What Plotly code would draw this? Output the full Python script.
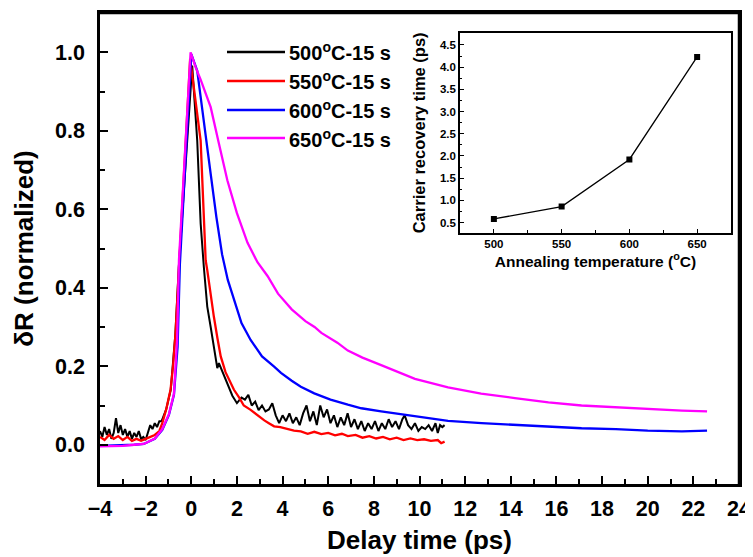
import plotly.graph_objects as go

# ---------------- data ----------------
series_names = ["500", "550", "600", "650"]
series_colors = ["#000000", "#ff0000", "#0000ff", "#ff00ff"]

t500 = [-4.0, -3.9, -3.8, -3.7, -3.6, -3.5, -3.4, -3.3, -3.2, -3.1, -3.0, -2.9, -2.8, -2.7,
        -2.6, -2.5, -2.4, -2.3, -2.2, -2.1, -2.0, -1.9, -1.8, -1.7, -1.6, -1.5, -1.4, -1.3,
        -1.1, -0.9, -0.7, -0.55, 0.04, 0.26, 0.41, 0.55, 0.70, 0.85, 0.99, 1.14, 1.21, 1.4,
        1.58, 1.8, 2.0, 2.2, 2.35, 2.5, 2.65, 2.8, 2.95, 3.1, 3.25, 3.4, 3.55, 3.7, 3.85,
        4.0, 4.15, 4.3, 4.45, 4.6, 4.75, 4.9, 5.05, 5.2, 5.35, 5.5, 5.65, 5.8, 5.95, 6.1,
        6.25, 6.4, 6.55, 6.7, 6.85, 7.0, 7.15, 7.3, 7.45, 7.6, 7.75, 7.9, 8.05, 8.2, 8.35,
        8.5, 8.65, 8.8, 8.95, 9.1, 9.25, 9.35, 9.5, 9.65, 9.8, 9.95, 10.1, 10.25, 10.4,
        10.55, 10.7, 10.8, 10.9, 11.0, 11.1]
r500 = [0.035, 0.02, 0.045, 0.025, 0.04, 0.015, 0.03, 0.068, 0.03, 0.05, 0.025, 0.04, 0.02, 0.035,
        0.015, 0.03, 0.02, 0.035, 0.015, 0.02, 0.012, 0.03, 0.05, 0.04, 0.055, 0.045, 0.06, 0.06,
        0.09, 0.14, 0.28, 0.45, 0.966, 0.775, 0.564, 0.453, 0.352, 0.30, 0.25, 0.195, 0.208, 0.18,
        0.157, 0.125, 0.106, 0.12, 0.115, 0.127, 0.10, 0.11, 0.088, 0.10, 0.085, 0.09, 0.106, 0.075, 0.055,
        0.075, 0.06, 0.08, 0.055, 0.07, 0.05, 0.08, 0.10, 0.06, 0.085, 0.05, 0.10, 0.07, 0.09, 0.055,
        0.075, 0.045, 0.07, 0.05, 0.08, 0.045, 0.065, 0.04, 0.06, 0.035, 0.055, 0.04, 0.06, 0.035, 0.055,
        0.04, 0.065, 0.045, 0.06, 0.04, 0.065, 0.075, 0.05, 0.04, 0.055, 0.035, 0.045, 0.04, 0.05,
        0.035, 0.055, 0.03, 0.05, 0.045, 0.05]

t550 = [-4.0, -3.8, -3.6, -3.4, -3.2, -3.0, -2.8, -2.6, -2.4, -2.2, -2.0, -1.8, -1.6, -1.4, -1.27,
        -1.1, -0.91, -0.8, -0.69, -0.54, -0.05, 0.41, 0.63, 0.70, 0.85, 0.99, 1.15, 1.29, 1.5, 1.7,
        1.87, 2.1, 2.3, 2.6, 2.9, 3.2, 3.4, 3.63, 3.9, 4.2, 4.5, 4.8, 5.1, 5.39, 5.7, 6.0, 6.3, 6.6,
        6.86, 7.2, 7.5, 7.8, 8.1, 8.4, 8.7, 9.0, 9.3, 9.6, 9.9, 10.2, 10.5, 10.8, 10.95, 11.1]
r550 = [0.02, 0.012, 0.025, 0.015, 0.022, 0.012, 0.02, 0.01, 0.015, 0.01, 0.015, 0.02, 0.025, 0.035, 0.055,
        0.09, 0.14, 0.20, 0.284, 0.45, 0.983, 0.775, 0.47, 0.445, 0.38, 0.326, 0.27, 0.225, 0.185, 0.16,
        0.14, 0.12, 0.10, 0.089, 0.075, 0.062, 0.055, 0.047, 0.045, 0.04, 0.036, 0.034, 0.028, 0.033, 0.027,
        0.03, 0.024, 0.028, 0.022, 0.025, 0.018, 0.022, 0.016, 0.02, 0.014, 0.018, 0.012, 0.016, 0.012,
        0.014, 0.01, 0.012, 0.004, 0.008]

t600 = [-4.0, -3.0, -2.5, -2.08, -1.6, -1.27, -0.98, -0.76, -0.6, -0.5, 0.0, 0.26, 0.55, 0.85,
        1.1, 1.35, 1.6, 1.87, 2.2, 2.6, 3.1, 3.63, 3.93, 4.4, 4.8, 5.39, 6.1, 6.86, 7.45, 8.32,
        9.79, 11.25, 12.72, 14.18, 15.65, 17.1, 18.6, 20.0, 21.5, 22.6]
r600 = [-0.003, -0.002, 0.0, 0.002, 0.015, 0.038, 0.076, 0.127, 0.25, 0.46, 0.995, 0.953, 0.818, 0.69,
        0.58, 0.485, 0.42, 0.369, 0.31, 0.267, 0.225, 0.199, 0.183, 0.163, 0.148, 0.131, 0.115, 0.102, 0.093, 0.085,
        0.072, 0.061, 0.055, 0.051, 0.047, 0.042, 0.040, 0.036, 0.034, 0.036]

t650 = [-4.0, -3.0, -2.5, -2.08, -1.6, -1.27, -0.98, -0.76, -0.62, -0.54, -0.03, 0.2, 0.41, 0.6,
        0.85, 1.2, 1.58, 2.0, 2.46, 2.9, 3.34, 3.8, 4.4, 5.0, 5.4, 5.7, 6.4, 6.86, 7.5, 8.32, 9.0,
        9.8, 11.25, 12.7, 14.18, 15.65, 17.1, 18.6, 20.0, 21.5, 22.6]
r650 = [-0.004, -0.003, 0.0, 0.002, 0.016, 0.04, 0.078, 0.13, 0.27, 0.47, 1.0, 0.96, 0.93, 0.9,
        0.86, 0.77, 0.674, 0.59, 0.515, 0.465, 0.43, 0.385, 0.345, 0.315, 0.30, 0.285, 0.26, 0.24, 0.222, 0.203, 0.186,
        0.168, 0.146, 0.13, 0.119, 0.108, 0.10, 0.095, 0.091, 0.087, 0.085]

times = [t500, t550, t600, t650]
signals = [r500, r550, r600, r650]

# inset data
anneal_temp = [500, 550, 600, 650]
recovery_time = [0.58, 0.86, 1.92, 4.23]

x_ticks = [-4, -2, 0, 2, 4, 6, 8, 10, 12, 14, 16, 18, 20, 22, 24]
y_ticks = [0.0, 0.2, 0.4, 0.6, 0.8, 1.0]

# ---------------- figure ----------------
FONT = "Liberation Sans, Arial, Helvetica, sans-serif"
fig = go.Figure()

for name, col, t, r in zip(series_names, series_colors, times, signals):
    fig.add_trace(go.Scatter(x=t, y=r, mode="lines", name=name,
                             line=dict(color=col, width=2.3 if col != "#000000" else 2.0),
                             showlegend=False, xaxis="x", yaxis="y"))

fig.add_trace(go.Scatter(x=anneal_temp, y=recovery_time, mode="lines+markers",
                         line=dict(color="#000000", width=1.3),
                         marker=dict(symbol="square", size=6, color="#000000"),
                         showlegend=False, xaxis="x2", yaxis="y2"))

# page offset of the figure (browser body margin)
OFF = 8
FIG_W, FIG_H = 753 - OFF, 557 - OFF
L, R, T, B = 100, 739, 13, 484
W, H = R - L, B - T
def px(xp): return (xp - L) / W
def py(yp): return (B - yp) / H

rows = [52, 81, 110, 138]
for name, col, yy in zip(series_names, series_colors, rows):
    fig.add_shape(type="line", xref="paper", yref="paper",
                  x0=px(227), x1=px(285), y0=py(yy), y1=py(yy),
                  line=dict(color=col, width=2.5))
    fig.add_annotation(xref="paper", yref="paper", x=px(287), y=py(yy),
                       xanchor="left", yanchor="middle", showarrow=False,
                       text=f"{name}<sup>o</sup>C-15 s",
                       font=dict(family=FONT, size=20, color="#000000", weight="bold"))

# top and right edges of the main frame
fig.add_shape(type="line", xref="paper", yref="paper", x0=0, x1=1, y0=1, y1=1,
              line=dict(color="#000000", width=2.5))
fig.add_shape(type="line", xref="paper", yref="paper", x0=1, x1=1, y0=0, y1=1,
              line=dict(color="#000000", width=2.5))

axis_common = dict(showline=True, linecolor="#000000", mirror=True, showgrid=False,
                   zeroline=False, ticks="inside", tickcolor="#000000", automargin=False)

fig.update_layout(
    template="none",
    width=FIG_W, height=FIG_H,
    margin=dict(l=L - OFF, r=753 - R, t=T - OFF, b=557 - B, pad=0),
    paper_bgcolor="white", plot_bgcolor="white",
    xaxis=dict(**axis_common, range=[-4, 24], tickvals=x_ticks, linewidth=2.5,
               ticklen=8, tickwidth=2,
               minor=dict(dtick=1, ticks="inside", ticklen=5, tickwidth=2, tickcolor="#000000"),
               tickfont=dict(family=FONT, size=21.5, color="#000000", weight="bold"),
               ticklabelstandoff=3,
               title=dict(text="Delay time (ps)", standoff=12,
                          font=dict(family=FONT, size=26, color="#000000", weight="bold"))),
    yaxis=dict(**axis_common, range=[-0.1, 1.1], tickvals=y_ticks, tickformat=".1f",
               linewidth=2.5, ticklen=8, tickwidth=2,
               minor=dict(dtick=0.1, tick0=0, ticks="inside", ticklen=5, tickwidth=2, tickcolor="#000000"),
               tickfont=dict(family=FONT, size=21.5, color="#000000", weight="bold"),
               ticklabelstandoff=8,
               title=dict(text="δR (normalized)", standoff=14,
                          font=dict(family=FONT, size=26, color="#000000", weight="bold"))),
    xaxis2=dict(**axis_common, domain=[px(460), px(731)], anchor="y2", range=[475, 675],
                tickvals=anneal_temp, linewidth=1.5, ticklen=4, tickwidth=1.2,
                minor=dict(dtick=25, tick0=475, ticks="inside", ticklen=2.5, tickwidth=1, tickcolor="#000000"),
                tickfont=dict(family=FONT, size=11.5, color="#000000", weight="bold"),
                ticklabelstandoff=0,
                title=dict(text="Annealing temperature (<sup>o</sup>C)", standoff=0,
                           font=dict(family=FONT, size=15.5, color="#000000", weight="bold"))),
    yaxis2=dict(**axis_common, domain=[py(232.7), py(33)], anchor="x2", range=[0.27, 4.77],
                dtick=0.5, tick0=0.5, tickformat=".1f", linewidth=1.5, ticklen=4, tickwidth=1.2,
                minor=dict(dtick=0.25, tick0=0.25, ticks="inside", ticklen=2.5, tickwidth=1, tickcolor="#000000"),
                tickfont=dict(family=FONT, size=11.5, color="#000000", weight="bold"),
                ticklabelstandoff=0,
                title=dict(text="Carrier recovery time (ps)", standoff=10,
                           font=dict(family=FONT, size=16.5, color="#000000", weight="bold"))),
)

fig.write_html("out.html")
